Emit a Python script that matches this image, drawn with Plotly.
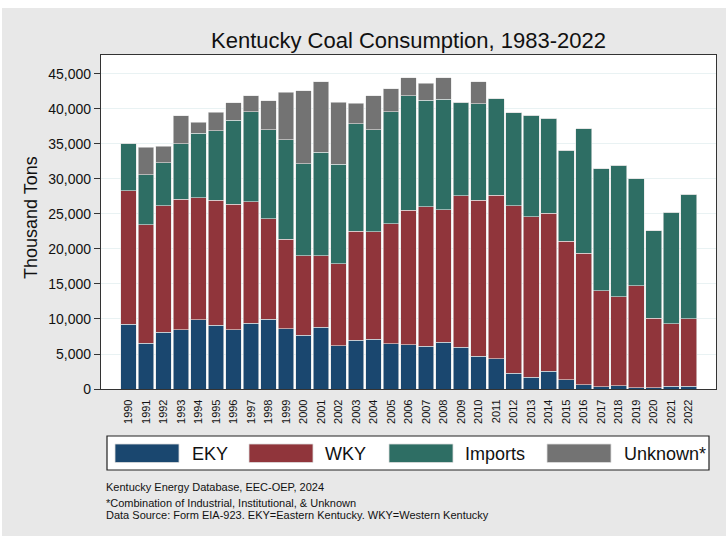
import plotly.graph_objects as go

# Data (thousand tons)
years = list(range(1990, 2023))
eky = [9240, 6570, 8100, 8480, 9900, 9100, 8430, 9380, 9950, 8620, 7670,
       8800, 6190, 7000, 7100, 6480, 6290, 6140, 6710, 5950, 4710, 4330,
       2240, 1710, 2570, 1330, 620, 290, 480, 190, 190, 380, 380]
wky = [19060, 16860, 18100, 18620, 17400, 17850, 17970, 17380, 14350, 12760, 11380,
       10250, 11670, 15570, 15330, 17120, 19210, 19910, 18890, 21620, 22240, 23370,
       23960, 22860, 22530, 19810, 18760, 13710, 12720, 14570, 9910, 8950, 9620]
imports = [6800, 7140, 6100, 7950, 9200, 9950, 12000, 12840, 12700, 14190, 13150,
           14750, 14280, 15330, 14620, 16000, 16400, 15190, 15780, 13380, 13810, 13730,
           13280, 14570, 13610, 13000, 17820, 17430, 18750, 15240, 12520, 15910, 17810]
unknown = [0, 3930, 2400, 4000, 1600, 2600, 2460, 2260, 4140, 6810, 10370,
           10060, 8810, 2900, 4810, 3260, 2530, 2430, 3100, 0, 3100, 0,
           0, 0, 0, 0, 0, 0, 0, 0, 0, 0, 0]

series = [("EKY", eky, "#1a476f"), ("WKY", wky, "#90353b"),
          ("Imports", imports, "#2e6e64"), ("Unknown*", unknown, "#737373")]

W, H = 726, 536
L, R, T, B = 101, 10, 55, 147
FONT = "Liberation Sans, Arial, sans-serif"


def px(x):
    return (x - L) / (W - L - R)


def py(y):
    return (H - B - y) / (H - T - B)


fig = go.Figure()
for name, vals, col in series:
    fig.add_trace(go.Bar(x=years, y=vals, name=name, marker_color=col,
                         marker_line=dict(color="#e4e4e4", width=0.6)))

shapes = [
    # white strips at the top/left edge of the image
    dict(type="rect", xref="paper", yref="paper", x0=px(0), x1=px(W), y0=py(0), y1=py(8),
         fillcolor="white", line_width=0, layer="below"),
    dict(type="rect", xref="paper", yref="paper", x0=px(0), x1=px(2), y0=py(0), y1=py(H),
         fillcolor="white", line_width=0, layer="below"),
    # legend box
    dict(type="rect", xref="paper", yref="paper", x0=px(107), x1=px(709), y0=py(436), y1=py(470),
         fillcolor="white", line=dict(color="#222", width=1.2)),
]
annotations = []
legend_pos = [(115, 190), (249, 323), (389, 463), (547, 622)]
for (name, _, col), (sx, tx) in zip(series, legend_pos):
    shapes.append(dict(type="rect", xref="paper", yref="paper", x0=px(sx), x1=px(sx + 64),
                       y0=py(444), y1=py(462.5), fillcolor=col, line=dict(color="#dddddd", width=0.8)))
    annotations.append(dict(text=name, xref="paper", yref="paper", x=px(tx), y=py(453.5),
                            xanchor="left", yanchor="middle", showarrow=False,
                            font=dict(size=18, color="#111", family=FONT)))

notes = [(487, "Kentucky Energy Database, EEC-OEP, 2024"),
         (503, "*Combination of Industrial, Institutional, & Unknown"),
         (514.5, "Data Source: Form EIA-923. EKY=Eastern Kentucky. WKY=Western Kentucky")]
for y, t in notes:
    annotations.append(dict(text=t, xref="paper", yref="paper", x=px(104), y=py(y),
                            xanchor="left", yanchor="middle", showarrow=False,
                            font=dict(size=11, color="#111", family=FONT)))

annotations.append(dict(text="Thousand Tons", xref="paper", yref="paper", x=px(31), y=py(218),
                        textangle=-90, xanchor="center", yanchor="middle", showarrow=False,
                        font=dict(size=18, color="#111", family=FONT)))

fig.update_layout(
    width=W, height=H,
    barmode="stack", bargap=0.1,
    paper_bgcolor="#e8e8e8", plot_bgcolor="white",
    margin=dict(l=L, r=R, t=T, b=B, autoexpand=False),
    showlegend=False,
    font=dict(family=FONT, color="#111"),
    title=dict(text="Kentucky Coal Consumption, 1983-2022", x=px(408.5), xref="paper",
               y=1 - 40 / H, yref="container", xanchor="center", yanchor="middle",
               font=dict(size=22, color="#111", family=FONT)),
    shapes=shapes, annotations=annotations,
    xaxis=dict(range=[1988.43, 2023.56], tickmode="array", tickvals=years,
               ticktext=[str(y) for y in years], tickangle=-90, automargin=False,
               tickfont=dict(size=11, color="#111"), ticks="outside", ticklen=5,
               tickcolor="rgba(0,0,0,0)", showgrid=False, showline=True,
               linecolor="#333", linewidth=1.2, mirror=True, zeroline=False),
    yaxis=dict(range=[0, 47710], tickvals=list(range(0, 45001, 5000)), tickformat=",d",
               tickfont=dict(size=14, color="#111"), ticks="outside", ticklen=6,
               tickcolor="#333", showgrid=True, gridcolor="#e9f2f3", gridwidth=1,
               showline=True, linecolor="#333", linewidth=1.2, mirror=True,
               zeroline=False, automargin=False),
)

# drop the browser's default page margin so the figure sits at (0, 0)
fig.write_html("out.html", config={"displayModeBar": False},
               post_script="document.body.style.margin='0';document.body.style.overflow='hidden';")
